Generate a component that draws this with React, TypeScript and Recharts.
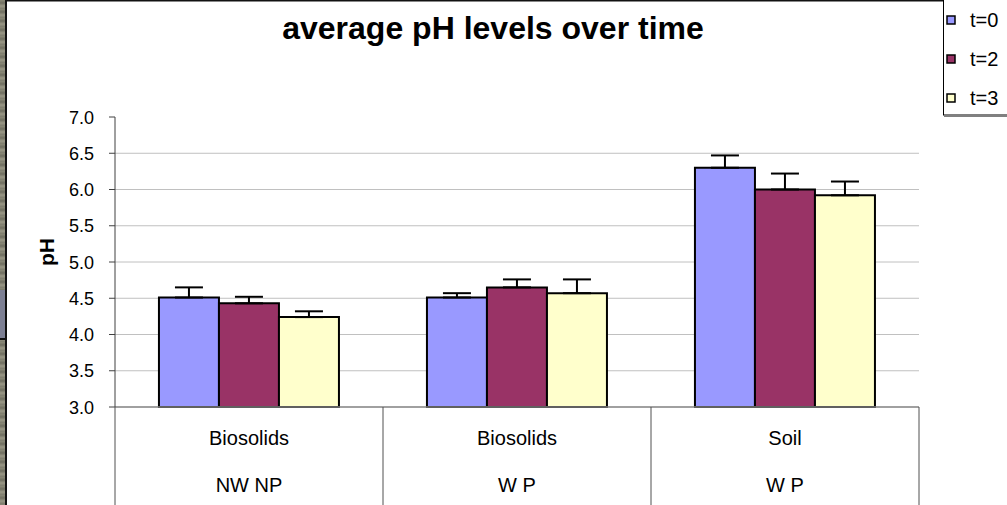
import React from 'react';
import { BarChart, Bar, XAxis, YAxis, CartesianGrid, ErrorBar } from 'recharts';

const categoriesTop = ['Biosolids', 'Biosolids', 'Soil'];
const categoriesBottom = ['NW NP', 'W P', 'W P'];
const seriesNames = ['t=0', 't=2', 't=3'];
const seriesKeys = ['t0', 't2', 't3'];
const t0 = [4.51, 4.51, 6.3];
const t2 = [4.43, 4.65, 6.0];
const t3 = [4.24, 4.57, 5.92];
const err0 = [0.14, 0.06, 0.17];
const err2 = [0.09, 0.11, 0.22];
const err3 = [0.08, 0.19, 0.19];
const yTicks = [3.0, 3.5, 4.0, 4.5, 5.0, 5.5, 6.0, 6.5, 7.0];
const gridValues = [3.5, 4.0, 4.5, 5.0, 5.5, 6.0, 6.5];
const colors = ['#9999FF', '#993366', '#FFFFCC'];
const title = 'average pH levels over time';
const yLabel = 'pH';

const data = categoriesTop.map((top, i) => ({
  key: `${top}|${categoriesBottom[i]}`,
  t0: t0[i],
  t2: t2[i],
  t3: t3[i],
  e0: [0, err0[i]],
  e2: [0, err2[i]],
  e3: [0, err3[i]],
}));

const FONT = '"Liberation Sans", Arial, sans-serif';
const W = 1007;
const H = 505;
const X_AXIS_H = 98;

const CategoryTick = (props: any) => {
  const { x, y, payload, index } = props;
  const half = payload && typeof payload.offset === 'number' ? payload.offset : 0;
  const parts = String(payload?.value ?? '').split('|');
  return (
    <g>
      <line x1={x - half} x2={x - half} y1={y} y2={y + X_AXIS_H} stroke="#505050" strokeWidth={1} />
      {index === data.length - 1 && (
        <line x1={x + half} x2={x + half} y1={y} y2={y + X_AXIS_H} stroke="#505050" strokeWidth={1} />
      )}
      <text x={x} y={y + 38} textAnchor="middle" fontSize={20} fontFamily={FONT} fill="#000">
        {parts[0]}
      </text>
      <text x={x} y={y + 85} textAnchor="middle" fontSize={20} fontFamily={FONT} fill="#000">
        {parts[1]}
      </text>
    </g>
  );
};

const ValueTick = (props: any) => {
  const { x, y, payload } = props;
  return (
    <text x={x} y={y} dy={6.5} textAnchor="end" fontSize={18} fontFamily={FONT} fill="#000">
      {Number(payload?.value).toFixed(1)}
    </text>
  );
};

export default function App() {
  return (
    <div style={{ position: 'absolute', left: 0, top: 0, width: W, height: H, background: '#fff', fontFamily: FONT }}>
      <BarChart
        width={W}
        height={H}
        data={data}
        margin={{ top: 117, right: 88, bottom: 0, left: 55 }}
        barCategoryGap="16.4%"
        barGap={0}
      >
        <CartesianGrid horizontal={true} vertical={false} horizontalValues={gridValues} stroke="#c0c0c0" strokeWidth={1} />
        <XAxis
          dataKey="key"
          height={X_AXIS_H}
          interval={0}
          tickSize={0}
          tickMargin={0}
          tick={<CategoryTick />}
          axisLine={{ stroke: '#808080', strokeWidth: 1.5 }}
          tickLine={false}
        />
        <YAxis
          width={60}
          domain={[3, 7]}
          ticks={yTicks}
          interval={0}
          tickSize={6}
          tickMargin={15}
          tick={<ValueTick />}
          axisLine={{ stroke: '#404040', strokeWidth: 1 }}
          tickLine={{ stroke: '#404040', strokeWidth: 1 }}
        />
        {seriesKeys.map((k, i) => (
          <Bar key={k} dataKey={k} name={seriesNames[i]} fill={colors[i]} stroke="#000" strokeWidth={2} isAnimationActive={false}>
            <ErrorBar dataKey={`e${k.slice(1)}`} width={14} strokeWidth={2} stroke="#000" direction="y" />
          </Bar>
        ))}
      </BarChart>
      <div
        style={{
          position: 'absolute',
          left: 0,
          top: 0,
          width: 5,
          height: H,
          background: 'repeating-linear-gradient(180deg, #8b8a78 0px, #6f6e60 3px, #9a9886 6px, #7c7b6c 9px)',
        }}
      />
      <div style={{ position: 'absolute', left: 0, top: 290, width: 5, height: 48, background: '#7d8094' }} />
      <div style={{ position: 'absolute', left: 5, top: 0, width: 2, height: H, background: '#111' }} />
      <div style={{ position: 'absolute', left: 0, top: 338, width: 7, height: 2, background: '#111' }} />
      <svg
        width={W}
        height={H}
        style={{ position: 'absolute', left: 0, top: 0, pointerEvents: 'none' }}
      >
        <rect x={7} y={0} width={936} height={1.5} fill="#111" />
        <text x={493} y={39} textAnchor="middle" fontSize={32} fontWeight="bold" fontFamily={FONT} fill="#000">
          {title}
        </text>
        <text
          x={54}
          y={252}
          transform="rotate(-90 54 252)"
          textAnchor="middle"
          fontSize={21}
          fontWeight="bold"
          fontFamily={FONT}
          fill="#000"
        >
          {yLabel}
        </text>
        <rect x={943.5} y={-1} width={70} height={116} fill="#fff" stroke="#000" strokeWidth={1} />
        <line x1={944} x2={1007} y1={116} y2={116} stroke="#808080" strokeWidth={2} />
        {seriesNames.map((n, i) => (
          <g key={n}>
            <rect x={947} y={16 + i * 39} width={8} height={8} fill={colors[i]} stroke="#000" strokeWidth={1.5} />
            <text x={970} y={27 + i * 39} fontSize={20} fontFamily={FONT} fill="#000">
              {n}
            </text>
          </g>
        ))}
      </svg>
    </div>
  );
}
